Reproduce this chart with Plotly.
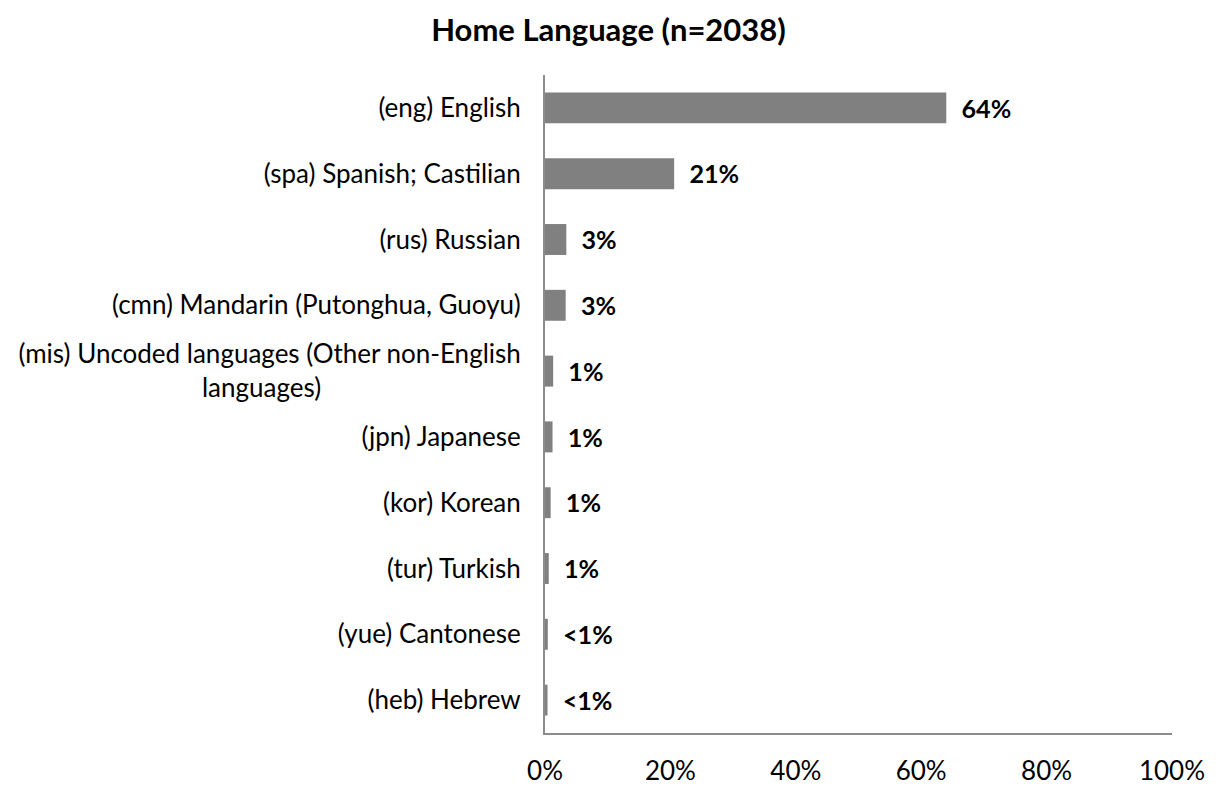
import plotly.graph_objects as go

NB = "\u00a0"
categories = [
    "(eng) English",
    "(spa) Spanish; Castilian",
    "(rus) Russian",
    "(cmn) Mandarin (Putonghua, Guoyu)",
    "(mis) Uncoded languages (Other non-English<br>languages)" + NB * 30,
    "(jpn) Japanese",
    "(kor) Korean",
    "(tur) Turkish",
    "(yue) Cantonese",
    "(heb) Hebrew",
]
values = [64.0, 20.6, 3.4, 3.3, 1.3, 1.2, 0.9, 0.6, 0.45, 0.4]
value_labels = ["64%", "21%", "3%", "3%", "1%", "1%", "1%", "1%", "<1%", "<1%"]
x_ticks = [0, 20, 40, 60, 80, 100]
x_tick_labels = ["0%", "20%", "40%", "60%", "80%", "100%"]

FONT = "Lato"

fig = go.Figure(
    go.Bar(
        y=categories,
        x=values,
        orientation="h",
        marker=dict(color="#808080", line=dict(width=0)),
        text=[NB * 2 + t for t in value_labels],
        textposition="outside",
        textfont=dict(family=FONT, size=26, color="#000000", weight="bold"),
        cliponaxis=False,
        width=0.47,
    )
)

fig.update_layout(
    template="none",
    width=1201,
    height=777,
    paper_bgcolor="white",
    plot_bgcolor="white",
    margin=dict(l=537, r=37, t=67, b=52, pad=0),
    showlegend=False,
    title=dict(
        text="<b>Home Language (n=2038)</b>",
        x=0.5,
        xanchor="center",
        y=0.9717,
        yanchor="middle",
        font=dict(family=FONT, size=31, color="#000000"),
    ),
    font=dict(family=FONT, size=26, color="#000000"),
)

fig.update_xaxes(
    range=[0, 100],
    tickvals=x_ticks,
    ticktext=x_tick_labels,
    showgrid=False,
    zeroline=False,
    showline=True,
    linecolor="#8c8c8c",
    linewidth=2,
    ticks="",
    automargin=False,
    ticklabelstandoff=14,
    tickfont=dict(family=FONT, size=26, color="#000000"),
)

fig.update_yaxes(
    autorange="reversed",
    showgrid=False,
    zeroline=False,
    showline=True,
    linecolor="#8c8c8c",
    linewidth=2,
    ticks="",
    automargin=False,
    ticklabelstandoff=17,
    tickfont=dict(family=FONT, size=26, color="#000000"),
)

fig.write_html("out.html")
